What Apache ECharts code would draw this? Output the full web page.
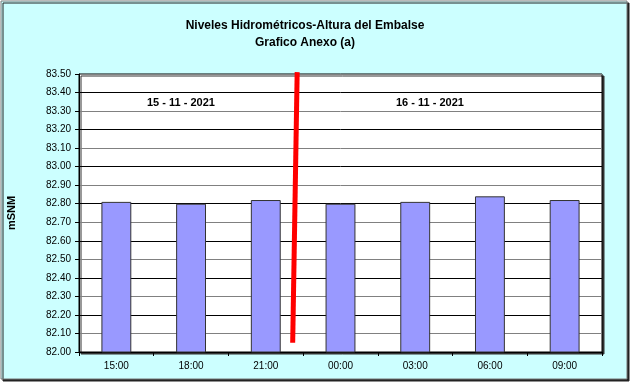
<!DOCTYPE html>
<html><head><meta charset="utf-8">
<script src="https://cdn.jsdelivr.net/npm/echarts@6/dist/echarts.min.js"></script>
<style>html,body{margin:0;padding:0;background:#fff}#c{width:631px;height:385px}</style>
</head><body><div id="c"></div>
<script>
var categories = ['15:00','18:00','21:00','00:00','03:00','06:00','09:00'];
var levels = [82.81, 82.80, 82.82, 82.80, 82.81, 82.84, 82.82];
var dividerX = [2.92, 2.86];
var dividerY = [83.51, 82.05];
var dateLabels = ['15 - 11 - 2021', '16 - 11 - 2021'];
var titleLines = ['Niveles Hidrométricos-Altura del Embalse', 'Grafico Anexo (a)'];
var yName = 'mSNM';

var F = 'Liberation Sans, Arial, sans-serif';
var chart = echarts.init(document.getElementById('c'), null, {renderer:'canvas'});
chart.setOption({
  animation: false,
  backgroundColor: 'transparent',
  title: {
    text: titleLines.join('\n'),
    left: 300, top: 12, textAlign: 'center',
    textStyle: {fontFamily: F, fontSize: 12, fontWeight: 'bold', color: '#000', lineHeight: 17}
  },
  graphic: [
    {type:'rect', z:-100, shape:{x:1,y:1,width:626,height:378},
     style:{fill:'#CCFFFF', stroke:'#777', lineWidth:1, shadowColor:'#222', shadowOffsetX:2, shadowOffsetY:2, shadowBlur:0}},
    {type:'text', left:185-38, top:97, style:{text:dateLabels[0], font:'bold 11px '+F, fill:'#000'}},
    {type:'text', left:434-38, top:97, style:{text:dateLabels[1], font:'bold 11px '+F, fill:'#000'}}
  ],
  grid: {left:79, right:29, top:74, bottom:33, containLabel:false, outerBoundsMode:'none',
         show:true, backgroundColor:'#fff', borderColor:'#000', borderWidth:1,
         shadowColor:'#333', shadowOffsetX:2, shadowOffsetY:2, shadowBlur:0},
  xAxis: [{
    type:'category', data: categories, boundaryGap:true,
    axisLine:{lineStyle:{color:'#000'}},
    axisTick:{show:true, length:4, alignWithLabel:false, lineStyle:{color:'#000'}},
    axisLabel:{fontFamily:F, fontSize:10, color:'#000', margin:9},
    splitLine:{show:false}
  },{
    type:'value', min:0, max:7, show:false
  }],
  yAxis: {
    type:'value', min:82, max:83.5, interval:0.1,
    name: yName, nameLocation:'middle', nameGap:62,
    nameTextStyle:{fontFamily:F, fontSize:11, fontWeight:'bold', color:'#000'},
    axisLine:{show:true, lineStyle:{color:'#000'}},
    axisTick:{show:true, length:4, lineStyle:{color:'#000'}},
    axisLabel:{fontFamily:F, fontSize:10, color:'#000', margin:8, formatter:function(v){return v.toFixed(2);}},
    splitLine:{show:true, lineStyle:{color:['#000','#808080'], width:1}}
  },
  series: [{
    type:'bar', data: levels, barWidth:'40%',
    itemStyle:{color:'#9999FF', borderColor:'#333', borderWidth:1}
  },{
    type:'line', xAxisIndex:1, symbol:'none', z:10,
    data: dividerX.map(function(x,i){return [x, dividerY[i]];}),
    lineStyle:{color:'#FF0000', width:5}
  }]
});
</script></body></html>
